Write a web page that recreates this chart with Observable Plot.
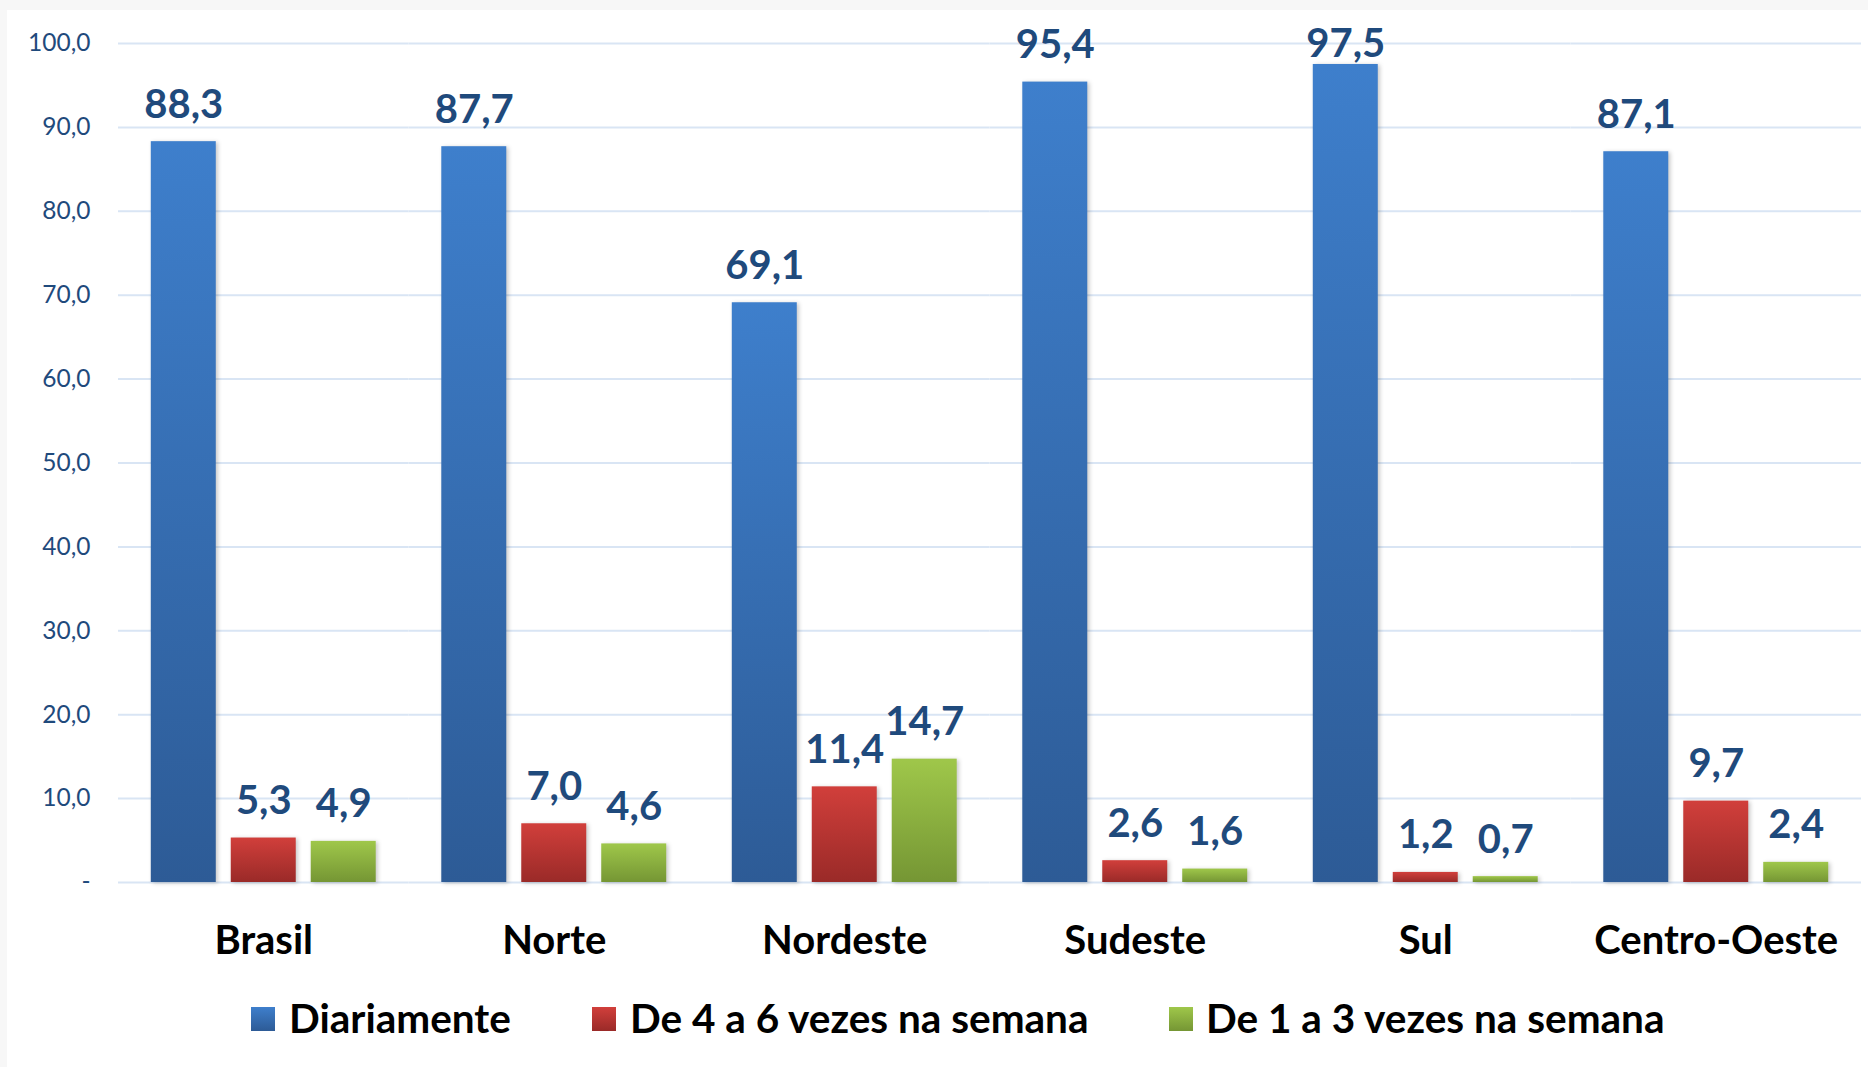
<!DOCTYPE html>
<html>
<head>
<meta charset="utf-8">
<script src="https://cdn.jsdelivr.net/npm/d3@7"></script>
<script src="https://cdn.jsdelivr.net/npm/@observablehq/plot@0.6"></script>
<style>
  html, body { margin: 0; padding: 0; background: #f7f7f7; }
  body { width: 1868px; height: 1067px; overflow: hidden; position: relative; font-family: Lato, "Open Sans", sans-serif; }
  #panel { position: absolute; left: 7px; top: 10px; width: 1861px; height: 1057px; background: #fff; }
  #chart svg { display: block; font-family: Lato, sans-serif; }
  g[aria-label^="fx-axis"] text { font-size: 40px; font-weight: 700; fill: #000; }
  g[aria-label^="y-axis"] text { font-size: 24.5px; font-weight: 400; fill: #1f4a7c; }
  g[aria-label="bar"] rect { filter: drop-shadow(2px 1px 2px rgba(0,0,0,0.22)); }
  #legend { position: relative; width: 1861px; height: 82px; }
  .sw { position: absolute; top: 22px; width: 24px; height: 24px; }
  .lt { position: absolute; top: 13px; font-size: 40.5px; line-height: 1; font-weight: 700; color: #000; white-space: nowrap; }
</style>
</head>
<body>
<div id="panel">
  <div id="chart"></div>
  <div id="legend"></div>
</div>
<script>
const regions = ["Brasil", "Norte", "Nordeste", "Sudeste", "Sul", "Centro-Oeste"];
const series = ["Diariamente", "De 4 a 6 vezes na semana", "De 1 a 3 vezes na semana"];
const diariamente = [88.3, 87.7, 69.1, 95.4, 97.5, 87.1];
const de4a6 = [5.3, 7.0, 11.4, 2.6, 1.2, 9.7];
const de1a3 = [4.9, 4.6, 14.7, 1.6, 0.7, 2.4];
const yTicks = [0, 10, 20, 30, 40, 50, 60, 70, 80, 90, 100];

const seriesValues = [diariamente, de4a6, de1a3];
const data = regions.flatMap((r, i) =>
  series.map((s, j) => ({region: r, series: s, value: seriesValues[j][i]}))
);

const gradients = [
  {id: "gBlue", top: "#3e7fcc", bottom: "#2d5b96"},
  {id: "gRed", top: "#d13f3b", bottom: "#9a2a28"},
  {id: "gGreen", top: "#9fc74a", bottom: "#759634"}
];

const fmt = v => v.toFixed(1).replace(".", ",");
const labelColor = "#1f4a7c";

const chart = Plot.plot({
  width: 1861,
  height: 975,
  marginLeft: 111,
  marginRight: 7,
  marginTop: 33,
  marginBottom: 103,
  style: {background: "transparent", fontFamily: "Lato, sans-serif"},
  fx: {domain: regions, padding: 0, round: false, label: null, tickSize: 0, tickPadding: 43},
  x: {domain: series, axis: null, round: false, paddingInner: 0.1875, paddingOuter: 0.41},
  y: {domain: [0, 100], ticks: yTicks, tickSize: 0, tickPadding: 28, label: null,
      tickFormat: d => d === 0 ? "-" : fmt(d)},
  color: {domain: series, range: gradients.map(g => `url(#${g.id})`)},
  marks: [
    Plot.ruleY(yTicks, {stroke: "#d9e5f4", strokeWidth: 2}),
    Plot.barY(data, {fx: "region", x: "series", y: "value", fill: "series"}),
    Plot.text(data, {
      fx: "region", x: "series",
      y: d => Math.min(d.value, 95.5),
      text: d => fmt(d.value),
      lineAnchor: "bottom", dy: -24,
      fontSize: 40, fontWeight: 700, fill: labelColor
    })
  ]
});

// gradient definitions
const ns = "http://www.w3.org/2000/svg";
const defs = document.createElementNS(ns, "defs");
for (const g of gradients) {
  const lg = document.createElementNS(ns, "linearGradient");
  lg.setAttribute("id", g.id);
  lg.setAttribute("x1", "0"); lg.setAttribute("y1", "0");
  lg.setAttribute("x2", "0"); lg.setAttribute("y2", "1");
  const s1 = document.createElementNS(ns, "stop");
  s1.setAttribute("offset", "0"); s1.setAttribute("stop-color", g.top);
  const s2 = document.createElementNS(ns, "stop");
  s2.setAttribute("offset", "1"); s2.setAttribute("stop-color", g.bottom);
  lg.appendChild(s1); lg.appendChild(s2);
  defs.appendChild(lg);
}
chart.insertBefore(defs, chart.firstChild);
document.getElementById("chart").appendChild(chart);

// legend
const legend = document.getElementById("legend");
const swatchLeft = [244, 585, 1162];
const textLeft = [282, 623, 1199];
series.forEach((s, j) => {
  const sw = document.createElement("div");
  sw.className = "sw";
  sw.style.left = swatchLeft[j] + "px";
  sw.style.background = `linear-gradient(${gradients[j].top}, ${gradients[j].bottom})`;
  legend.appendChild(sw);
  const t = document.createElement("div");
  t.className = "lt";
  t.style.left = textLeft[j] + "px";
  t.textContent = s;
  legend.appendChild(t);
});
</script>
</body>
</html>
